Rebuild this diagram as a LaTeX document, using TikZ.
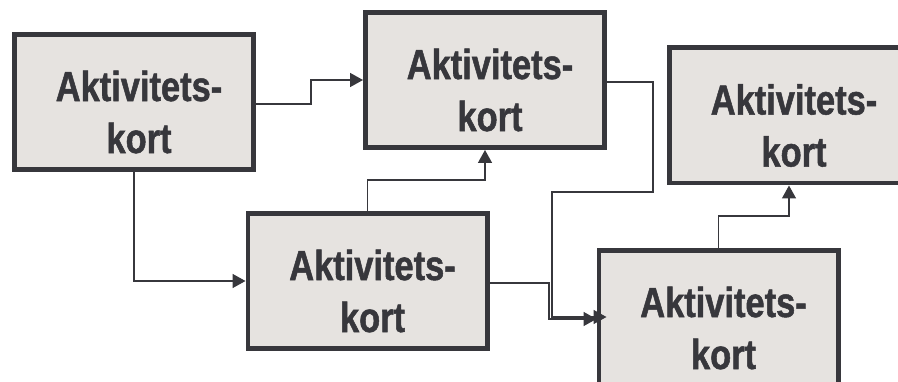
\documentclass[tikz,border=0pt]{standalone}
\usepackage{fontspec}
\newfontfamily\cardfont[FakeStretch=0.82,BoldFeatures={FakeBold=1.2}]{Liberation Sans}
\usetikzlibrary{arrows.meta}
\definecolor{ink}{RGB}{55,55,60}
\definecolor{cardfill}{RGB}{230,227,224}
\tikzset{
  card/.style={rectangle, draw=ink, fill=cardfill, line width=4.7pt,
    minimum width=239.3pt, minimum height=135.3pt, inner sep=0pt},
  cardtext/.style={text=ink, align=center, inner sep=0pt,
    font=\cardfont\bfseries\fontsize{42}{52}\selectfont},
  conn/.style={draw=ink, line width=1.5pt, -{Triangle[length=13pt,width=14pt]}}
}
\begin{document}
\begin{tikzpicture}[x=1pt,y=-1pt]
\useasboundingbox (0,0) rectangle (898,382);
\clip (0,0) rectangle (898,382);
% boxes
\node[card] (A) at (134,102) {};
\node[card] (B) at (485,80) {};
\node[card] (C) at (789,115.5) {};
\node[card] (D) at (367.5,281) {};
\node[card] (E) at (718.5,318) {};
% texts
\foreach \n in {A,B,C,D,E}
  \node[cardtext] (\n t) at ([xshift=5pt,yshift=-10pt]\n.center) {Aktivitets-\\kort};
% connectors
\draw[conn] ([yshift=-2pt]A.east) -- ++(55,0) |- (B.west);
\draw[conn] (A.south) |- (D.west);
\draw[conn] (D.north) -- ++(0,-31) -| (B.south);
\draw[conn] ([yshift=-2pt]B.east) -| (653,192) -| (552,317) -- ([xshift=10pt,yshift=1pt]E.west);
\draw[conn] ([yshift=-2pt]D.east) -| (549,319) -- ([yshift=-1pt]E.west);
\draw[conn] (E.north) -- ++(0,-32) -| (C.south);
\end{tikzpicture}
\end{document}
